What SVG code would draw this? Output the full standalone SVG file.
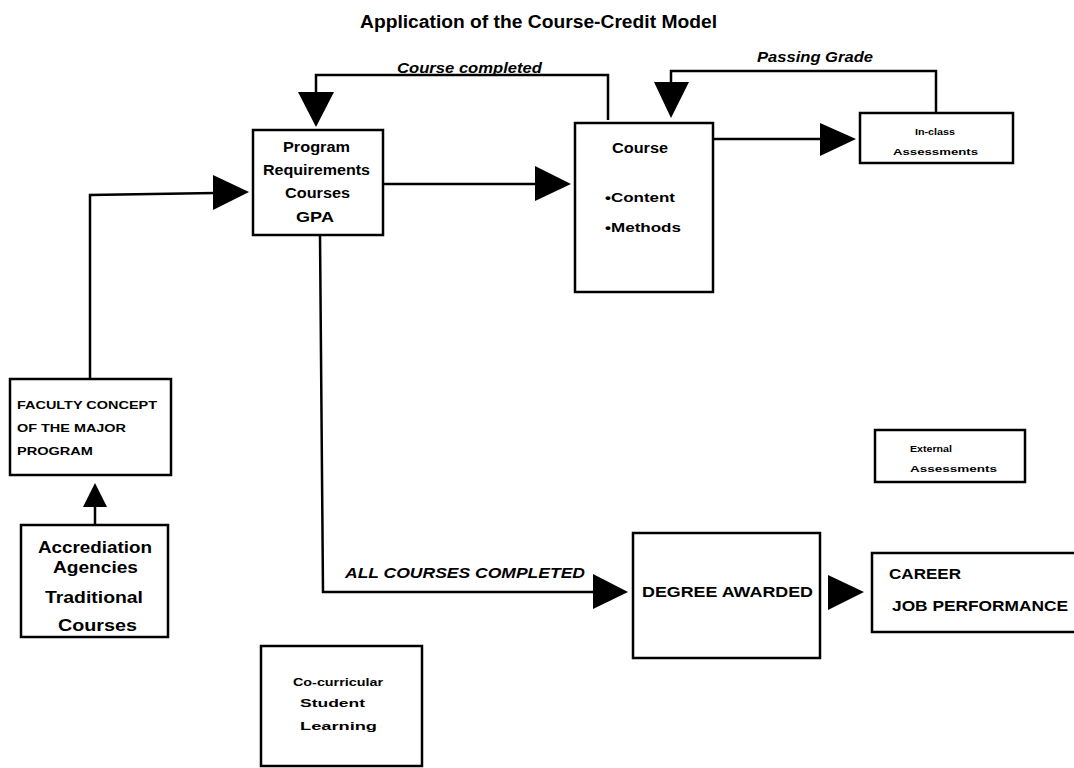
<svg xmlns="http://www.w3.org/2000/svg" width="1074" height="768" viewBox="0 0 1074 768">
<style>
.box{fill:#fff;stroke:#000;stroke-width:2.5}
.ln{fill:none;stroke:#000;stroke-width:2.5}
.ah{fill:#000}
text{font-family:"Liberation Sans",Arial,sans-serif;fill:#000;font-weight:bold}
.i{font-style:italic}
</style>
<rect width="1074" height="768" fill="#fff"/>
<text x="360" y="28" style="font-size:18px" textLength="357" lengthAdjust="spacingAndGlyphs">Application of the Course-Credit Model</text>
<g id="connectors">
<polyline class="ln" points="608,120 608,75 316,75 316,100"/>
<polygon class="ah" points="298,92 334,92 316,127"/>
<text class="i" x="397" y="73" style="font-size:14px" textLength="145" lengthAdjust="spacingAndGlyphs">Course completed</text>
<polyline class="ln" points="936,113 936,71 671,71 671,88"/>
<polygon class="ah" points="654,82 689,82 671,118"/>
<text class="i" x="757" y="62" style="font-size:14px" textLength="116" lengthAdjust="spacingAndGlyphs">Passing Grade</text>
<line class="ln" x1="383" y1="184" x2="538" y2="184"/>
<polygon class="ah" points="535,166 535,201 571,184"/>
<line class="ln" x1="713" y1="139" x2="822" y2="139"/>
<polygon class="ah" points="820,123 820,156 856,139"/>
<polyline class="ln" points="90,379 90,195 215,193"/>
<polygon class="ah" points="213,175 213,210 249,192"/>
<line class="ln" x1="95" y1="525" x2="95" y2="500"/>
<polygon class="ah" points="83,507 107,507 95,483"/>
<polyline class="ln" points="320,235 323,592 596,592"/>
<polygon class="ah" points="593,574 593,609 628,592"/>
<text class="i" x="345" y="578" style="font-size:15px" textLength="240" lengthAdjust="spacingAndGlyphs">ALL COURSES COMPLETED</text>
<polygon class="ah" points="828,575 828,610 864,592"/>
</g>
<g id="program">
<rect class="box" x="253" y="130" width="130" height="105"/>
<text x="283" y="152" style="font-size:14px" textLength="67" lengthAdjust="spacingAndGlyphs">Program</text>
<text x="263" y="175" style="font-size:14px" textLength="107" lengthAdjust="spacingAndGlyphs">Requirements</text>
<text x="285" y="198" style="font-size:14px" textLength="65" lengthAdjust="spacingAndGlyphs">Courses</text>
<text x="296" y="222" style="font-size:14px" textLength="38" lengthAdjust="spacingAndGlyphs">GPA</text>
</g>
<g id="course">
<rect class="box" x="575" y="123" width="138" height="169"/>
<text x="612" y="153" style="font-size:14px" textLength="56" lengthAdjust="spacingAndGlyphs">Course</text>
<text x="605" y="202" style="font-size:13px" textLength="70" lengthAdjust="spacingAndGlyphs">•Content</text>
<text x="605" y="232" style="font-size:13px" textLength="76" lengthAdjust="spacingAndGlyphs">•Methods</text>
</g>
<g id="inclass">
<rect class="box" x="860" y="113" width="153" height="50"/>
<text x="915" y="135" style="font-size:9px" textLength="40" lengthAdjust="spacingAndGlyphs">In-class</text>
<text x="893" y="155" style="font-size:9px" textLength="85" lengthAdjust="spacingAndGlyphs">Assessments</text>
</g>
<g id="faculty">
<rect class="box" x="10" y="379" width="161" height="96"/>
<text x="17" y="409" style="font-size:11px" textLength="140" lengthAdjust="spacingAndGlyphs">FACULTY CONCEPT</text>
<text x="17" y="432" style="font-size:11px" textLength="109" lengthAdjust="spacingAndGlyphs">OF THE MAJOR</text>
<text x="17" y="455" style="font-size:11px" textLength="76" lengthAdjust="spacingAndGlyphs">PROGRAM</text>
</g>
<g id="accrediation">
<rect class="box" x="21" y="525" width="147" height="112"/>
<text x="38" y="553" style="font-size:17px" textLength="114" lengthAdjust="spacingAndGlyphs">Accrediation</text>
<text x="53" y="573" style="font-size:17px" textLength="85" lengthAdjust="spacingAndGlyphs">Agencies</text>
<text x="45" y="603" style="font-size:17px" textLength="98" lengthAdjust="spacingAndGlyphs">Traditional</text>
<text x="58" y="631" style="font-size:17px" textLength="79" lengthAdjust="spacingAndGlyphs">Courses</text>
</g>
<g id="external">
<rect class="box" x="875" y="430" width="150" height="52"/>
<text x="910" y="452" style="font-size:9px" textLength="42" lengthAdjust="spacingAndGlyphs">External</text>
<text x="910" y="472" style="font-size:9px" textLength="87" lengthAdjust="spacingAndGlyphs">Assessments</text>
</g>
<g id="degree">
<rect class="box" x="633" y="533" width="187" height="125"/>
<text x="642" y="597" style="font-size:15px" textLength="171" lengthAdjust="spacingAndGlyphs">DEGREE AWARDED</text>
</g>
<g id="career">
<rect class="box" x="872" y="553" width="210" height="79"/>
<text x="889" y="579" style="font-size:15px" textLength="72" lengthAdjust="spacingAndGlyphs">CAREER</text>
<text x="892" y="611" style="font-size:15px" textLength="176" lengthAdjust="spacingAndGlyphs">JOB PERFORMANCE</text>
</g>
<g id="cocurricular">
<rect class="box" x="261" y="646" width="161" height="120"/>
<text x="293" y="686" style="font-size:10px" textLength="90" lengthAdjust="spacingAndGlyphs">Co-curricular</text>
<text x="300" y="707" style="font-size:10px" textLength="65" lengthAdjust="spacingAndGlyphs">Student</text>
<text x="300" y="730" style="font-size:10px" textLength="77" lengthAdjust="spacingAndGlyphs">Learning</text>
</g>
</svg>
